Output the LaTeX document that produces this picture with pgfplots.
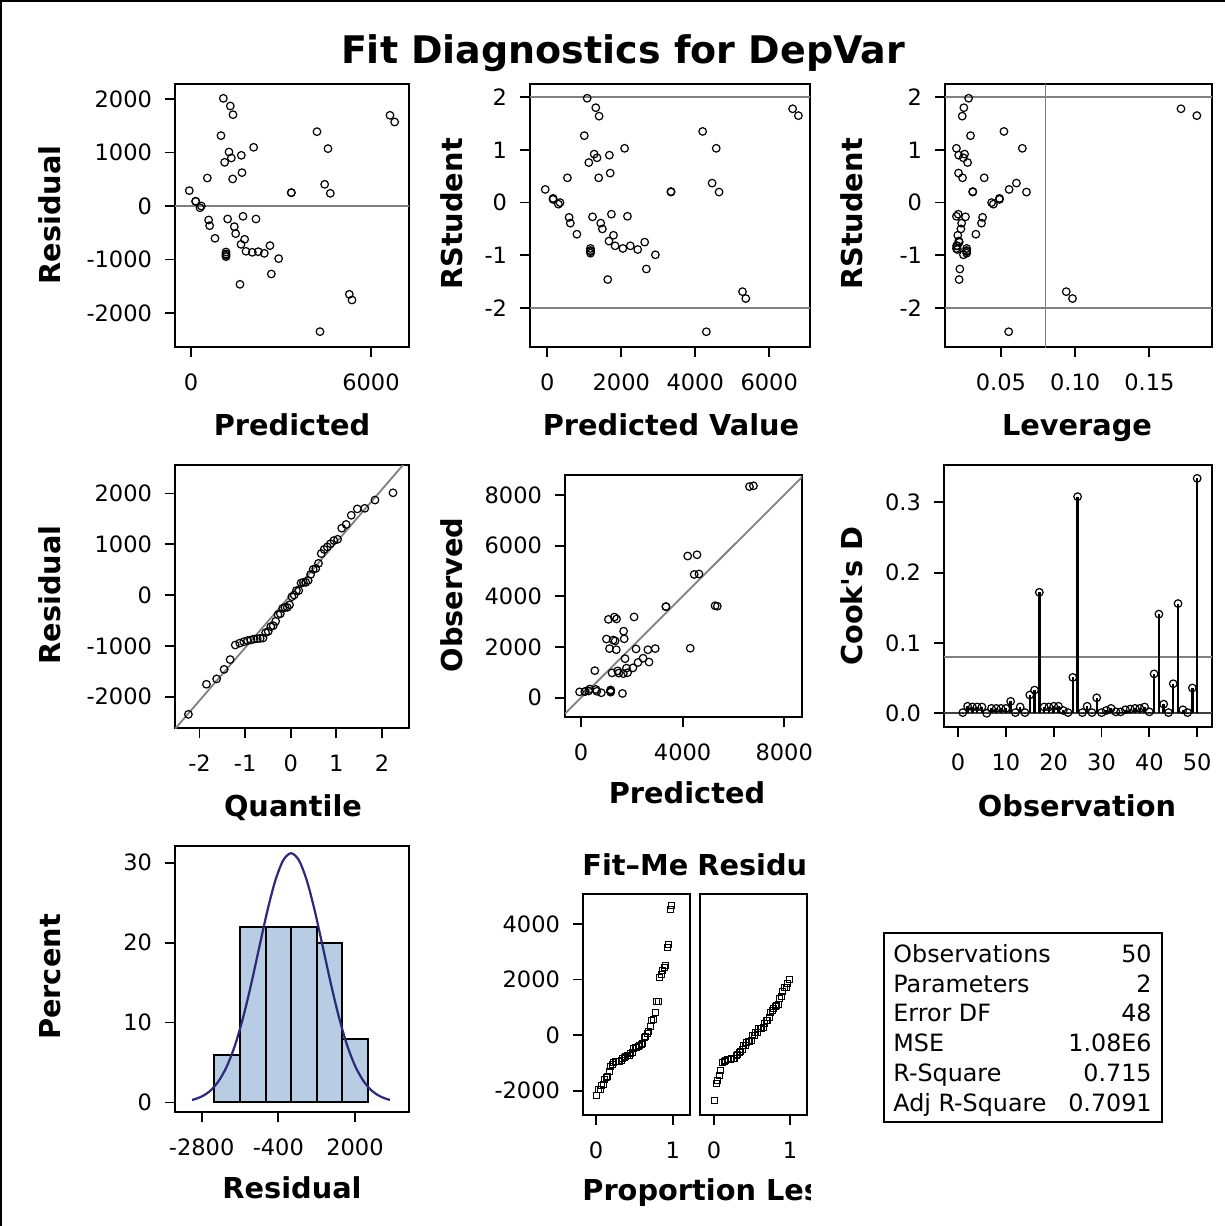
\documentclass[border=0pt]{standalone}
\usepackage{fontspec}
\setmainfont{DejaVu Sans}
\usepackage{pgfplots}
\usepackage{pgfplotstable}
\pgfplotsset{compat=1.18}

\newcommand\tk{\fontsize{11.25}{13}\selectfont}
\newcommand\lb{\fontsize{14.4}{17}\selectfont\bfseries}

\definecolor{refgray}{RGB}{128,128,128}
\definecolor{barfill}{RGB}{184,204,228}
\definecolor{curve}{RGB}{42,42,120}

% pred, residual, rstudent, leverage, observed
\pgfplotstableread{
pred res rstud lev yobs
1078 2012 1.98 0.0282 3090
1311 1869 1.80 0.0250 3180
1400 1707 1.64 0.0239 3107
1000 1315 1.27 0.0295 2315
1267 1009 0.92 0.0255 2276
1678 947 0.90 0.0215 2625
1344 897 0.85 0.0246 2241
1122 816 0.76 0.0275 1938
2089 1097 1.03 0.0200 3186
1700 623 0.56 0.0214 2323
1389 505 0.47 0.0241 1894
544 523 0.47 0.0387 1067
-56 287 0.25 0.0555 231
156 87 0.08 0.0490 243
156 87 0.06 0.0490 243
344 0 0.00 0.0437 344
3344 249 0.20 0.0310 3593
3344 249 0.21 0.0310 3593
4200 1389 1.35 0.0520 5589
4567 1072 1.03 0.0644 5639
4456 405 0.37 0.0604 4861
4644 237 0.20 0.0672 4881
6633 1695 1.78 0.1713 8328
6789 1570 1.65 0.1820 8359
589 -262 -0.28 0.0376 327
622 -368 -0.39 0.0369 254
1222 -243 -0.27 0.0261 979
1733 -193 -0.22 0.0212 1540
2167 -243 -0.26 0.0200 1924
1444 -386 -0.39 0.0235 1058
1489 -517 -0.50 0.0230 972
800 -604 -0.60 0.0331 196
1789 -623 -0.62 0.0209 1166
1667 -717 -0.73 0.0216 950
1833 -847 -0.82 0.0206 986
2044 -866 -0.87 0.0200 1178
2244 -854 -0.82 0.0201 1390
2444 -885 -0.89 0.0207 1559
2633 -741 -0.75 0.0219 1892
1167 -860 -0.87 0.0269 307
1167 -897 -0.91 0.0269 270
1167 -947 -0.96 0.0269 220
2922 -984 -0.99 0.0247 1938
2678 -1271 -1.26 0.0223 1407
1633 -1464 -1.46 0.0218 169
5278 -1651 -1.69 0.0940 3627
5367 -1757 -1.82 0.0982 3610
4300 -2349 -2.45 0.0552 1951
1167 -920 -0.93 0.0269 247
300 -33 -0.03 0.0449 267
}\fitdata

\pgfplotstableread{
q res
-2.243 -2349
-1.848 -1757
-1.624 -1651
-1.460 -1464
-1.328 -1271
-1.216 -984
-1.118 -947
-1.029 -920
-0.947 -897
-0.872 -885
-0.802 -866
-0.734 -860
-0.670 -854
-0.609 -847
-0.550 -741
-0.493 -717
-0.437 -623
-0.383 -604
-0.330 -517
-0.278 -386
-0.227 -368
-0.176 -262
-0.125 -243
-0.075 -243
-0.025 -193
0.025 -33
0.075 0
0.125 87
0.176 87
0.227 237
0.278 249
0.330 249
0.383 287
0.437 405
0.493 505
0.550 523
0.609 623
0.670 816
0.734 897
0.802 947
0.872 1009
0.947 1072
1.029 1097
1.118 1315
1.216 1389
1.328 1570
1.460 1695
1.624 1707
1.848 1869
2.243 2012
}\qqdata

\pgfplotstableread{
p fm sr
0.0124 -2183 -2349
0.0323 -1971 -1757
0.0522 -1971 -1651
0.0721 -1827 -1464
0.0920 -1783 -1271
0.1119 -1583 -984
0.1318 -1538 -947
0.1517 -1505 -920
0.1716 -1327 -897
0.1915 -1127 -885
0.2114 -1049 -866
0.2313 -1005 -860
0.2512 -960 -854
0.2711 -960 -847
0.2910 -960 -741
0.3109 -960 -717
0.3308 -905 -623
0.3507 -860 -604
0.3706 -816 -517
0.3905 -783 -386
0.4104 -738 -368
0.4303 -727 -262
0.4502 -683 -243
0.4701 -638 -243
0.4900 -494 -193
0.5100 -460 -33
0.5299 -449 0
0.5498 -427 87
0.5697 -394 87
0.5896 -338 237
0.6095 -294 249
0.6294 -83 249
0.6493 -38 287
0.6692 40 405
0.6891 117 505
0.7090 317 523
0.7289 506 623
0.7488 551 816
0.7687 795 897
0.7886 1217 947
0.8085 1217 1009
0.8284 2073 1072
0.8483 2173 1097
0.8682 2329 1315
0.8881 2440 1389
0.9080 2517 1570
0.9279 3151 1695
0.9478 3240 1707
0.9677 4506 1869
0.9876 4662 2012
}\spreaddata

\pgfplotstableread{
obs d
1 0.001
2 0.010
3 0.009
4 0.009
5 0.009
6 0.000
7 0.007
8 0.007
9 0.007
10 0.007
11 0.017
12 0.001
13 0.009
14 0.001
15 0.026
16 0.033
17 0.172
18 0.009
19 0.009
20 0.010
21 0.010
22 0.004
23 0.001
24 0.051
25 0.308
26 0.001
27 0.010
28 0.001
29 0.022
30 0.001
31 0.004
32 0.007
33 0.002
34 0.002
35 0.005
36 0.006
37 0.007
38 0.007
39 0.009
40 0.002
41 0.056
42 0.141
43 0.013
44 0.001
45 0.042
46 0.156
47 0.005
48 0.001
49 0.036
50 0.334
}\cookdata

\pgfplotsset{
  diag/.style={scale only axis, anchor=north west, tick pos=left,
    tick align=outside, major tick length=5pt,
    axis line style={line width=0.9pt},
    major tick style={black, line width=0.9pt},
    ticklabel style={font=\tk},
    xticklabel style={yshift=-5pt},
    yticklabel style={xshift=-3pt}},
  pts/.style={only marks, mark=o, mark size=1.9pt,
    mark options={line width=0.6pt, black}},
  sq/.style={only marks, mark=square, mark size=1.5pt,
    mark options={line width=0.5pt, black}},
  refl/.style={refgray, line width=0.9pt, forget plot},
}
\tikzset{lab/.style={font=\lb, inner sep=0pt, anchor=base}}

\begin{document}
\begin{tikzpicture}
\useasboundingbox[fill=white] (0pt,0pt) rectangle (612.5pt,-613pt);
\draw[line width=1pt] (0.5pt,-613pt) -- (0.5pt,-0.5pt) -- (612.5pt,-0.5pt);

\node[font=\fontsize{19}{22}\selectfont\bfseries, inner sep=0pt, anchor=base]
  at (311.5pt,-31.5pt) {Fit Diagnostics for DepVar};

% row 1 ---------------------------------------------------------
\begin{axis}[diag, at={(87.5pt,-42pt)}, width=117pt, height=131.5pt,
  xmin=-533, xmax=7267, ymin=-2636, ymax=2280,
  xtick={0,6000}, xticklabels={0,6000},
  ytick={-2000,-1000,0,1000,2000}, yticklabels={-2000,-1000,0,1000,2000}]
\addplot[refl] coordinates {(-1000,0) (8000,0)};
\addplot[pts] table[x=pred, y=res] {\fitdata};
\end{axis}

\begin{axis}[diag, at={(265pt,-42pt)}, width=140pt, height=131.5pt,
  xmin=-468, xmax=7103, ymin=-2.74, ymax=2.25,
  xtick={0,2000,4000,6000}, xticklabels={0,2000,4000,6000},
  ytick={-2,-1,0,1,2}, yticklabels={-2,-1,0,1,2}]
\addplot[refl] coordinates {(-1000,2) (8000,2)};
\addplot[refl] coordinates {(-1000,-2) (8000,-2)};
\addplot[pts] table[x=pred, y=rstud] {\fitdata};
\end{axis}

\begin{axis}[diag, at={(472.5pt,-42pt)}, width=133.5pt, height=131.5pt,
  xmin=0.0123, xmax=0.1922, ymin=-2.74, ymax=2.25,
  xtick={0.05,0.10,0.15}, xticklabels={0.05,0.10,0.15},
  ytick={-2,-1,0,1,2}, yticklabels={-2,-1,0,1,2}]
\addplot[refl] coordinates {(0,2) (0.2,2)};
\addplot[refl] coordinates {(0,-2) (0.2,-2)};
\addplot[refl] coordinates {(0.08,-3) (0.08,3)};
\addplot[pts] table[x=lev, y=rstud] {\fitdata};
\end{axis}

\node[lab] at (146pt,-217.5pt) {Predicted};
\node[lab] at (335.5pt,-217.5pt) {Predicted Value};
\node[lab] at (538.5pt,-217.5pt) {Leverage};
\node[lab, rotate=90] at (30.25pt,-107.5pt) {Residual};
\node[lab, rotate=90] at (231.25pt,-107pt) {RStudent};
\node[lab, rotate=90] at (431.25pt,-107pt) {RStudent};

% row 2 ---------------------------------------------------------
\begin{axis}[diag, at={(87.5pt,-232.5pt)}, width=117pt, height=131.5pt,
  xmin=-2.537, xmax=2.594, ymin=-2618, ymax=2559,
  xtick={-2,-1,0,1,2}, xticklabels={-2,-1,0,1,2},
  ytick={-2000,-1000,0,1000,2000}, yticklabels={-2000,-1000,0,1000,2000}]
\addplot[refl] coordinates {(-2.7,-2805) (2.7,2805)};
\addplot[pts] table[x=q, y=res] {\qqdata};
\end{axis}

\begin{axis}[diag, at={(282.5pt,-237.5pt)}, width=118.5pt, height=121pt,
  xmin=-630, xmax=8701, ymin=-761, ymax=8785,
  xtick={0,4000,8000}, xticklabels={0,4000,8000},
  ytick={0,2000,4000,6000,8000}, yticklabels={0,2000,4000,6000,8000}]
\addplot[refl] coordinates {(-1000,-1000) (9000,9000)};
\addplot[pts] table[x=pred, y=yobs] {\fitdata};
\end{axis}

\begin{axis}[diag, at={(472pt,-232.5pt)}, width=134pt, height=131pt,
  xmin=-2.93, xmax=53.1, ymin=-0.0195, ymax=0.353,
  xtick={0,10,20,30,40,50}, xticklabels={0,10,20,30,40,50},
  ytick={0,0.1,0.2,0.3}, yticklabels={0.0,0.1,0.2,0.3}]
\addplot[refl] coordinates {(-5,0.08) (55,0.08)};
\addplot[black!75, line width=0.9pt, forget plot] coordinates {(-5,0) (55,0)};
\addplot[ycomb, black, line width=1.2pt, mark=o, mark size=1.9pt,
  mark options={line width=0.6pt, fill=white}] table[x=obs, y=d] {\cookdata};
\end{axis}

\node[lab] at (146.5pt,-408pt) {Quantile};
\node[lab] at (343.5pt,-401.5pt) {Predicted};
\node[lab] at (538.5pt,-408pt) {Observation};
\node[lab, rotate=90] at (30.25pt,-297.5pt) {Residual};
\node[lab, rotate=90] at (231.25pt,-297.5pt) {Observed};
\node[lab, rotate=90] at (431.25pt,-298pt) {Cook\textquotesingle s D};

% row 3 ---------------------------------------------------------
\begin{axis}[diag, at={(87.5pt,-423pt)}, width=117pt, height=133pt,
  xmin=-3634, xmax=3692, ymin=-1.2, ymax=32.1,
  xtick={-2800,-400,2000}, xticklabels={-2800,-400,2000},
  ytick={0,10,20,30}, yticklabels={0,10,20,30}]
\addplot[ybar interval, fill=barfill, draw=black, line width=1pt]
  coordinates {(-2400,6) (-1600,22) (-800,22) (0,22) (800,20) (1600,8) (2400,8)};
\addplot[curve, line width=1.1pt, smooth] coordinates {
  (-3100,0.32) (-3000,0.42) (-2750,0.84) (-2500,1.57) (-2250,2.78)
  (-2000,4.61) (-1750,7.22) (-1500,10.65) (-1250,14.79) (-1000,19.35)
  (-750,23.85) (-500,27.69) (-250,30.28) (0,31.2) (250,30.28)
  (500,27.69) (750,23.85) (1000,19.35) (1250,14.79) (1500,10.65)
  (1750,7.22) (2000,4.61) (2250,2.78) (2500,1.57) (2750,0.84)
  (3000,0.42) (3100,0.32)};
\end{axis}

\begin{axis}[diag, at={(291.5pt,-447pt)}, width=53.5pt, height=110.5pt,
  xmin=-0.17, xmax=1.225, ymin=-2878, ymax=5072,
  xtick={0,1}, xticklabels={0,1},
  ytick={-2000,0,2000,4000}, yticklabels={-2000,0,2000,4000}]
\addplot[sq] table[x=p, y=fm] {\spreaddata};
\end{axis}

\begin{axis}[diag, at={(350pt,-447pt)}, width=53.5pt, height=110.5pt,
  xmin=-0.184, xmax=1.224, ymin=-2878, ymax=5072,
  xtick={0,1}, xticklabels={0,1}, ytick=\empty]
\addplot[sq] table[x=p, y=sr] {\spreaddata};
\end{axis}

% the panel titles are cut off at the cell edges, as in the output
\node[font=\lb, inner sep=0pt, anchor=base west] at (291pt,-437.5pt) {Fit–Me};
\node[font=\lb, inner sep=0pt, anchor=base west] at (348.5pt,-437.5pt) {Residu};
\begin{scope}
\clip (290pt,-585pt) rectangle (405pt,-610pt);
\node[font=\lb, inner sep=0pt, anchor=base west] at (291pt,-600pt) {Proportion Less};
\end{scope}

\node[lab] at (146pt,-599pt) {Residual};
\node[lab, rotate=90] at (30.25pt,-488.5pt) {Percent};

% fit statistics
\draw[line width=0.7pt] (442pt,-466.5pt) rectangle (581pt,-561pt);
\begin{scope}[every node/.style={font=\fontsize{11.9}{14}\selectfont, inner sep=0pt}]
\node[anchor=base west] at (446.5pt,-481pt) {Observations};
\node[anchor=base east] at (576pt,-481pt) {50};
\node[anchor=base west] at (446.5pt,-496pt) {Parameters};
\node[anchor=base east] at (576pt,-496pt) {2};
\node[anchor=base west] at (446.5pt,-510.5pt) {Error DF};
\node[anchor=base east] at (576pt,-510.5pt) {48};
\node[anchor=base west] at (446.5pt,-525.5pt) {MSE};
\node[anchor=base east] at (576pt,-525.5pt) {1.08E6};
\node[anchor=base west] at (446.5pt,-540.5pt) {R-Square};
\node[anchor=base east] at (576pt,-540.5pt) {0.715};
\node[anchor=base west] at (446.5pt,-555.5pt) {Adj R-Square};
\node[anchor=base east] at (576pt,-555.5pt) {0.7091};
\end{scope}
\end{tikzpicture}
\end{document}
